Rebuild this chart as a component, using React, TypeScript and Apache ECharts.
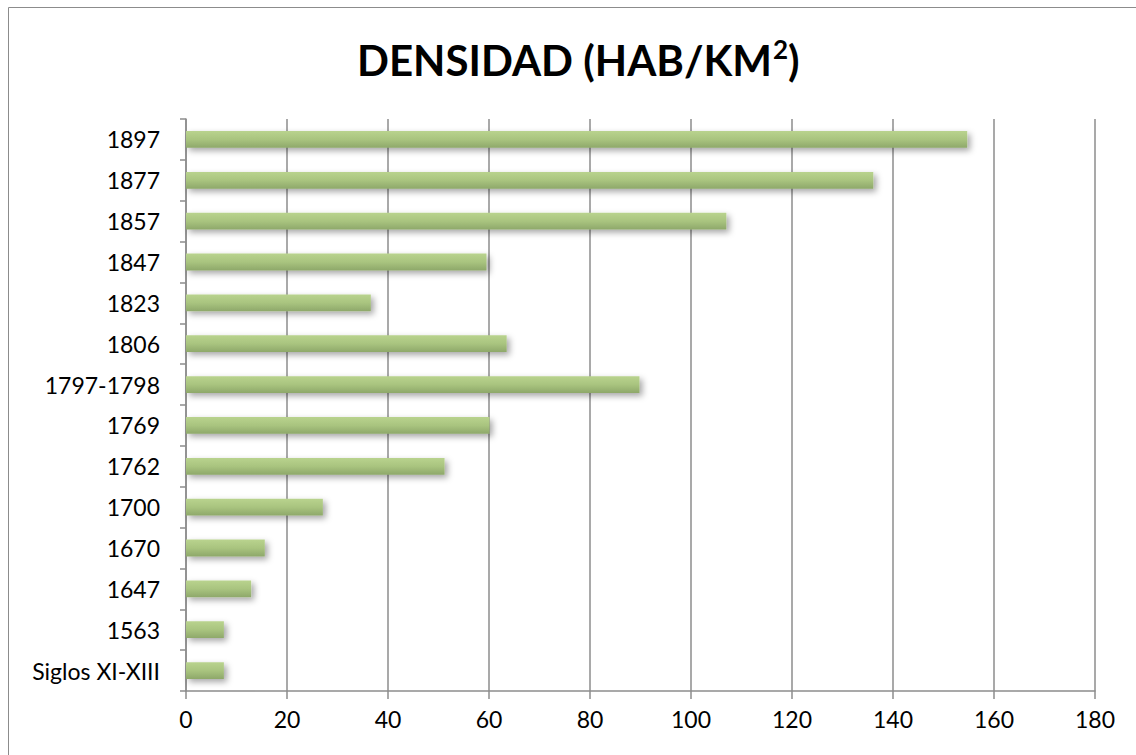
import React, { useEffect, useRef } from "react";
import * as echarts from "echarts";

const categories = [
  "Siglos XI-XIII", "1563", "1647", "1670", "1700", "1762", "1769",
  "1797-1798", "1806", "1823", "1847", "1857", "1877", "1897",
];
const densidad = [7.5, 7.5, 12.9, 15.6, 27.1, 51.2, 60.1, 89.8, 63.5, 36.6, 59.5, 107.0, 136.1, 154.7];
const xTicks = { min: 0, max: 180, interval: 20 };
const titleMain = "DENSIDAD (HAB/KM";
const titleSup = "2";
const titleEnd = ")";

export default function App() {
  const ref = useRef<HTMLDivElement>(null);
  useEffect(() => {
    document.body.style.margin = "0";
    const chart = echarts.init(ref.current!, null, { renderer: "svg" });
    const font = "Lato, 'Open Sans', sans-serif";
    chart.setOption({
      animation: false,
      backgroundColor: "#ffffff",
      title: {
        text: `{a|${titleMain}}{s|${titleSup}}{a|${titleEnd}}`,
        left: 352,
        top: 30,
        textStyle: {
          rich: {
            a: { fontFamily: font, fontWeight: "bold", fontSize: 42, color: "#000", lineHeight: 50 },
            s: { fontFamily: font, fontWeight: "bold", fontSize: 26, color: "#000", lineHeight: 50, padding: [0, 0, 22, 1] },
          },
        },
      },
      graphic: [
        {
          type: "rect",
          shape: { x: 8.5, y: 7.5, width: 1200, height: 800 },
          style: { fill: "none", stroke: "#8c8c8c", lineWidth: 1 },
          silent: true,
        },
      ],
      grid: { left: 186, top: 119, right: 41, bottom: 64, containLabel: false },
      xAxis: {
        type: "value",
        min: xTicks.min,
        max: xTicks.max,
        interval: xTicks.interval,
        axisLine: { show: true, lineStyle: { color: "#8c8c8c", width: 1.5 } },
        axisTick: { show: true, length: 8, lineStyle: { color: "#8c8c8c", width: 1.5 } },
        splitLine: { show: true, lineStyle: { color: "#8c8c8c", width: 1.5 } },
        axisLabel: { fontFamily: font, fontSize: 23, color: "#000", margin: 16 },
      },
      yAxis: {
        type: "category",
        data: categories,
        axisLine: { show: true, lineStyle: { color: "#8c8c8c", width: 1.5 } },
        axisTick: { show: true, length: 6, lineStyle: { color: "#8c8c8c", width: 1.5 } },
        axisLabel: { fontFamily: font, fontSize: 23, color: "#000", margin: 26 },
      },
      series: [
        {
          type: "bar",
          data: densidad,
          barWidth: "41%",
          itemStyle: {
            color: new echarts.graphic.LinearGradient(0, 0, 0, 1, [
              { offset: 0, color: "#b9d38e" },
              { offset: 0.5, color: "#a9c47f" },
              { offset: 1, color: "#8ea86a" },
            ]),
            shadowBlur: 6,
            shadowOffsetX: 3,
            shadowOffsetY: 3,
            shadowColor: "rgba(0,0,0,0.35)",
          },
        },
      ],
    });
    return () => chart.dispose();
  }, []);
  return <div ref={ref} style={{ width: 1136, height: 755 }} />;
}
